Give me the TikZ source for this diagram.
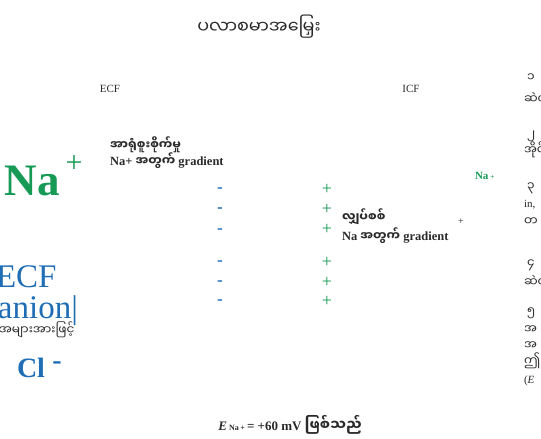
\documentclass[tikz,border=0pt]{standalone}
\usepackage{fontspec}
\setmainfont{Liberation Serif}
\newfontfamily\mm[Script=Myanmar,Scale=1.1]{Noto Sans Myanmar UI}
\newfontfamily\mmnote[Script=Myanmar,Scale=0.97]{Noto Sans Myanmar UI}
\definecolor{ionGreen}{HTML}{179A55}
\definecolor{ionBlue}{HTML}{1F6DB5}
\definecolor{txt}{HTML}{2A2A2A}
\begin{document}
\begin{tikzpicture}[x=1pt,y=-1pt,
  every node/.style={inner sep=0pt,outer sep=0pt,text=txt},
  plain/.style={font=\fontsize{11}{13}\selectfont},
  note/.style={font=\fontsize{12.5}{14}\selectfont\bfseries},
  bigna/.style={font=\fontsize{45}{47}\selectfont\bfseries,text=ionGreen},
  bigplus/.style={font=\fontsize{30}{32}\selectfont,text=ionGreen},
  negsign/.style={font=\fontsize{17}{17}\selectfont\bfseries,text=ionBlue},
  possign/.style={font=\fontsize{18}{18}\selectfont,text=ionGreen},
  anionbig/.style={font=\fontsize{33}{35}\selectfont,text=ionBlue},
  chloride/.style={font=\fontsize{28}{30}\selectfont\bfseries,text=ionBlue},
  side/.style={font=\fontsize{11}{13}\selectfont,anchor=west}]
\useasboundingbox (0,0) rectangle (541,439);

% membrane title and compartments
\node[font=\fontsize{16}{18}\selectfont] (title) at (259,27) {\mm ပလာစမာအမြှေး};
\node[plain] (ecf) at (110,89) {ECF};
\node[plain] (icf) at (411,89) {ICF};

% concentration gradient label
\node[note,anchor=west] (conc) at (110,145) {\mmnote အာရုံစူးစိုက်မှု};
\node[note,anchor=base west] (concna) at (110,165) {Na+ {\mmnote အတွက်} gradient};

% large sodium ion
\node[bigna,anchor=base west] (na) at (5,195) {Na};
\node[bigplus] (naplus) at (74,164) {+};

% charges on each side of the membrane
\foreach \y [count=\i] in {190,210,231,263,283,302}
  \node[negsign] (m\i) at (220,\y) {-};
\foreach \y [count=\i] in {189,209,229,262,282,301}
  \node[possign] (p\i) at (327,\y) {+};

% electrical gradient label
\node[note,anchor=west] (elec) at (342,217) {\mmnote လျှပ်စစ်};
\node[note,anchor=base west] (elecna) at (342,240) {Na {\mmnote အတွက်} gradient};
\node[font=\fontsize{10}{10}\selectfont] (elecplus) at (461,222) {+};

% sodium inside the cell
\node[font=\fontsize{11}{13}\selectfont\bfseries,text=ionGreen,anchor=base west] (nain) at (475,179) {Na\,{\fontsize{7}{7}\selectfont +}};

% extracellular anions
\node[anionbig,anchor=base west] (ecfbig) at (-4,287) {ECF};
\node[anionbig,anchor=base west] (anion) at (-2,318) {anion|};
\node[font=\fontsize{11}{13}\selectfont,anchor=west] (mostly) at (-1,330) {\mm အများအားဖြင့်};
\node[chloride,anchor=base west] (cl) at (17,377) {Cl};
\node[chloride] (clminus) at (57,366) {-};

% equilibrium potential
\node[font=\fontsize{13}{15}\selectfont\bfseries] (ena) at (290,425)
  {\textit{E}\,{\fontsize{8}{8}\selectfont Na\,+}\,= +60 mV {\mm ဖြစ်သည်}};

% numbered notes along the right margin
\node[side] (n1) at (527,78) {\mm ၁};
\node[side] (t1) at (524,97) {\mm ဆဲလ်};
\node[side] (n2) at (527,136) {\mm ၂};
\node[side] (t2) at (524,150) {\mm အိုင်း};
\node[side] (n3) at (527,188) {\mm ၃};
\node[side] (t3a) at (524,205) {in,};
\node[side] (t3b) at (524,222) {\mm တ};
\node[side] (n4) at (527,265) {\mm ၄};
\node[side] (t4) at (524,280) {\mm ဆဲလ်};
\node[side] (n5) at (527,313) {\mm ၅};
\node[side] (t5a) at (524,330) {\mm အ};
\node[side] (t5b) at (524,346) {\mm အ};
\node[side] (t5c) at (524,361) {\mm ဤ};
\node[side] (t5d) at (524,381) {(\textit{E}};
\end{tikzpicture}
\end{document}
